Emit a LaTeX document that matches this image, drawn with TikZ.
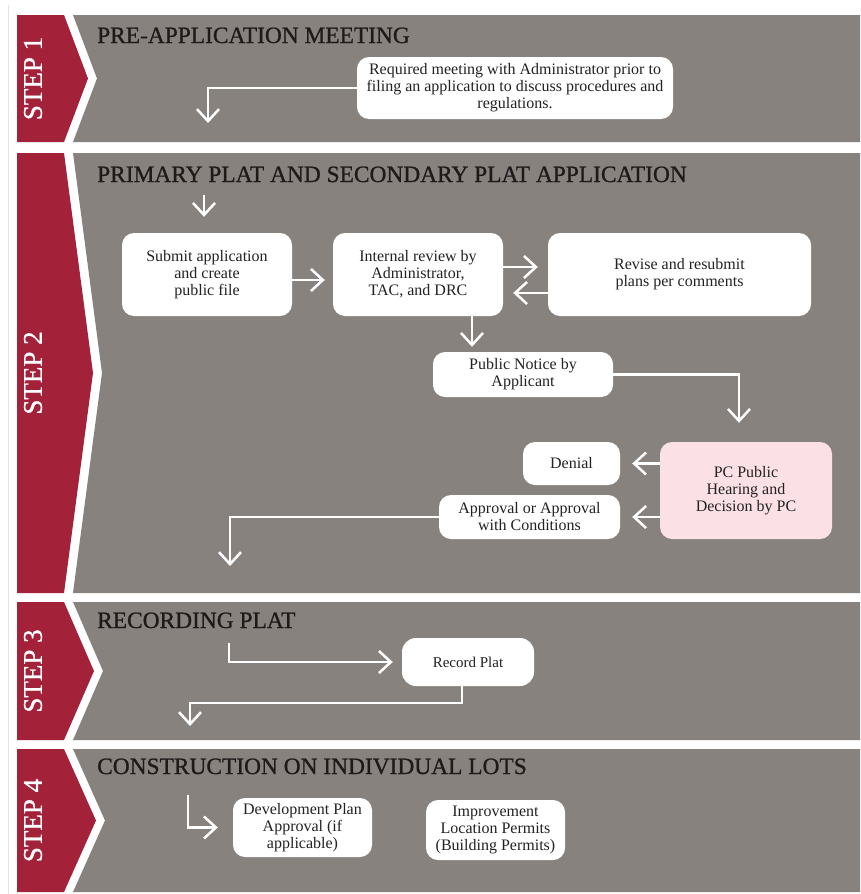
\documentclass[tikz,border=0pt]{standalone}
\usepackage{fontspec}
\setmainfont{Liberation Serif}
\newfontfamily\headfont{Liberation Serif}[FakeBold=0.9]
\usetikzlibrary{arrows.meta}
\definecolor{bandgray}{HTML}{88827F}
\definecolor{stepred}{HTML}{A4213A}
\definecolor{hearpink}{HTML}{FBE0E6}
\definecolor{headink}{HTML}{1E1A1A}
\definecolor{bodyink}{HTML}{222222}
\definecolor{frameline}{HTML}{E4E4E4}

\begin{document}
\begin{tikzpicture}[x=1pt,y=-1pt,
  box/.style={fill=white, rounded corners=12pt, align=center, inner sep=0pt,
    text=bodyink, font=\fontsize{16}{17}\selectfont},
  flow/.style={draw=white, line width=2.5pt, -{Straight Barb[length=12pt,width=22pt]}},
  heading/.style={anchor=base west, text=headink, inner sep=0pt,
    font=\headfont\fontsize{23.4}{24}\selectfont},
  steplabel/.style={rotate=90, text=white, inner sep=0pt,
    font=\headfont\fontsize{27}{27}\selectfont}
]
\useasboundingbox (0,0) rectangle (860,894);
\fill[white] (0,0) rectangle (860,894);
\draw[frameline, line width=0.8pt] (8,5) -- (8,894);

% step bands: gray band with a notch and a red chevron tab
\foreach \t/\b/\tip/\lbl in {15/142/88/1, 153/593/93/2, 602/740/94/3, 749/892/96/4}{
  \pgfmathsetmacro\m{(\t+\b)/2}
  \pgfmathsetmacro\gtip{\tip+9}
  \fill[bandgray] (73,\t) -- (860,\t) -- (860,\b) -- (73,\b) -- (\gtip,\m) -- cycle;
  \fill[stepred] (17,\t) -- (64,\t) -- (\tip,\m) -- (64,\b) -- (17,\b) -- cycle;
  \node[steplabel] (step\lbl) at (33,\m) {STEP \lbl};
}

% headings
\node[heading] (h1) at (97,43) {PRE-APPLICATION MEETING};
\node[heading] (h2) at (97,182) {PRIMARY PLAT AND SECONDARY PLAT APPLICATION};
\node[heading] (h3) at (97,628) {RECORDING PLAT};
\node[heading] (h4) at (97,774) {CONSTRUCTION ON INDIVIDUAL LOTS};

% step 1
\node[box, minimum width=316pt, minimum height=62pt] (pre) at (515,88)
  {Required meeting with Administrator prior to\\filing an application to discuss procedures and\\regulations.};
\coordinate (e1) at (208,123);
\draw[flow] (pre.west) -| (e1);

% step 2
\node[box, minimum width=170pt, minimum height=83pt] (sub) at (207,274.5)
  {Submit application\\and create\\public file};
\node[box, minimum width=170pt, minimum height=83pt] (int) at (418,274.5)
  {Internal review by\\Administrator,\\TAC, and DRC};
\node[box, minimum width=263pt, minimum height=83pt] (rsb) at (679.5,274.5)
  {Revise and resubmit\\plans per comments};
\node[box, minimum width=180pt, minimum height=45pt] (pn) at (523,374.5)
  {Public Notice by\\Applicant};
\node[box, fill=hearpink, minimum width=172pt, minimum height=97pt] (pc) at (746,490.5)
  {PC Public\\Hearing and\\Decision by PC};
\node[box, minimum width=97pt, minimum height=43pt] (den) at (571.5,463.5) {Denial};
\node[box, minimum width=181pt, minimum height=44pt] (apr) at (529.5,517)
  {Approval or Approval\\with Conditions};

\coordinate (s2) at (204,195);
\draw[flow, shorten >=16pt] (s2) -- (s2 |- sub.north);
\draw[flow, shorten >=8pt] ([yshift=-5.5pt]sub.east) -- ([yshift=-5.5pt]int.west);
\draw[flow, shorten >=10pt] ([yshift=7.5pt]int.east) -- ([yshift=7.5pt]rsb.west);
\draw[flow, shorten >=10pt] ([yshift=-18.5pt]rsb.west) -- ([yshift=-18.5pt]int.east);
\draw[flow, shorten >=5pt] ([xshift=54pt]int.south) -- ([xshift=54pt]int.south |- pn.north);
\draw[flow] (pn.east) -| ([xshift=-7pt,yshift=19pt]pc.north);
\draw[flow, shorten >=12pt] (pc.west |- den.east) -- (den.east);
\draw[flow, shorten >=12pt] (pc.west |- apr.east) -- (apr.east);
\coordinate (e2) at (230,566);
\draw[flow] (apr.west) -| (e2);

% step 3
\node[box, font=\fontsize{15}{17}\selectfont, rounded corners=14pt,
  minimum width=132pt, minimum height=48pt] (rec) at (468,662) {Record Plat};
\coordinate (s3) at (229,643);
\draw[flow, shorten >=9pt] (s3) |- (rec.west);
\coordinate (e3) at (190,726);
\draw[flow] ([xshift=-6pt]rec.south) -- ++(0,17) -| (e3);

% step 4
\node[box, minimum width=139pt, minimum height=59pt] (dev) at (302.5,827.5)
  {Development Plan\\Approval (if\\applicable)};
\node[box, minimum width=139pt, minimum height=60pt] (imp) at (495.5,830)
  {Improvement\\Location Permits\\(Building Permits)};
\coordinate (s4) at (188,795);
\draw[flow, shorten >=15pt] (s4) |- (dev.west);
\end{tikzpicture}
\end{document}
